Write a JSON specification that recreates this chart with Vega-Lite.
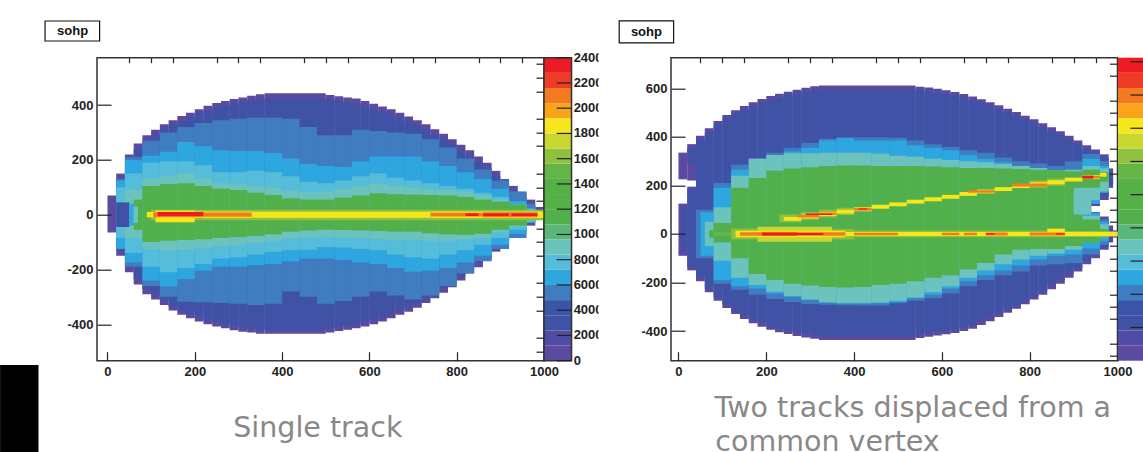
{"$schema":"https://vega.github.io/schema/vega-lite/v6.json","autosize":{"type":"none"},"padding":{"left":97,"top":57.7,"right":1046,"bottom":394.3},"background":"white","bounds":"flush","spacing":0,
"config":{"view":{"stroke":null},"axis":{"grid":false,"title":null,"labelFont":"Liberation Sans","labelFontWeight":"bold","labelFontSize":13,"labelColor":"#222","tickColor":"#222","tickWidth":1.2,"domain":false,"labelFlush":false,"labelOverlap":false,"labelExpr":"''+datum.value"}},
"datasets":{
"L":[
{"x":0,"x2":20,"c":0,"lo":-65,"hi":70},{"x":20,"x2":40,"c":0,"lo":-150,"hi":150},{"x":40,"x2":60,"c":0,"lo":-210,"hi":220},{"x":60,"x2":80,"c":0,"lo":-255,"hi":260},{"x":80,"x2":100,"c":0,"lo":-290,"hi":290},{"x":100,"x2":120,"c":0,"lo":-310,"hi":310},{"x":120,"x2":140,"c":0,"lo":-330,"hi":330},{"x":140,"x2":160,"c":0,"lo":-350,"hi":345},{"x":160,"x2":180,"c":0,"lo":-365,"hi":360},{"x":180,"x2":200,"c":0,"lo":-378,"hi":372},{"x":200,"x2":220,"c":0,"lo":-390,"hi":385},{"x":220,"x2":240,"c":0,"lo":-400,"hi":398},{"x":240,"x2":260,"c":0,"lo":-408,"hi":408},{"x":260,"x2":280,"c":0,"lo":-415,"hi":415},{"x":280,"x2":300,"c":0,"lo":-422,"hi":422},{"x":300,"x2":320,"c":0,"lo":-427,"hi":428},{"x":320,"x2":340,"c":0,"lo":-430,"hi":434},{"x":340,"x2":360,"c":0,"lo":-435,"hi":440},{"x":360,"x2":500,"c":0,"lo":-435,"hi":443},{"x":500,"x2":520,"c":0,"lo":-430,"hi":437},{"x":520,"x2":540,"c":0,"lo":-425,"hi":432},{"x":540,"x2":560,"c":0,"lo":-420,"hi":428},{"x":560,"x2":580,"c":0,"lo":-415,"hi":424},{"x":580,"x2":600,"c":0,"lo":-408,"hi":415},{"x":600,"x2":620,"c":0,"lo":-400,"hi":405},{"x":620,"x2":640,"c":0,"lo":-390,"hi":395},{"x":640,"x2":660,"c":0,"lo":-378,"hi":385},{"x":660,"x2":680,"c":0,"lo":-365,"hi":372},{"x":680,"x2":700,"c":0,"lo":-354,"hi":358},{"x":700,"x2":720,"c":0,"lo":-340,"hi":345},{"x":720,"x2":740,"c":0,"lo":-322,"hi":330},{"x":740,"x2":760,"c":0,"lo":-305,"hi":312},{"x":760,"x2":780,"c":0,"lo":-285,"hi":295},{"x":780,"x2":800,"c":0,"lo":-265,"hi":275},{"x":800,"x2":820,"c":0,"lo":-240,"hi":255},{"x":820,"x2":840,"c":0,"lo":-215,"hi":235},{"x":840,"x2":860,"c":0,"lo":-192,"hi":212},{"x":860,"x2":880,"c":0,"lo":-165,"hi":190},{"x":880,"x2":900,"c":0,"lo":-135,"hi":160},{"x":900,"x2":920,"c":0,"lo":-110,"hi":130},{"x":920,"x2":940,"c":0,"lo":-85,"hi":105},{"x":940,"x2":960,"c":0,"lo":-60,"hi":80},{"x":960,"x2":980,"c":0,"lo":-40,"hi":55},{"x":980,"x2":1000,"c":0,"lo":-18,"hi":28},
{"x":20,"x2":40,"c":2,"lo":-130,"hi":130},{"x":40,"x2":60,"c":2,"lo":-190,"hi":195},{"x":60,"x2":80,"c":2,"lo":-235,"hi":240},{"x":80,"x2":100,"c":2,"lo":-272,"hi":270},{"x":100,"x2":120,"c":2,"lo":-292,"hi":292},{"x":120,"x2":140,"c":2,"lo":-315,"hi":312},{"x":140,"x2":160,"c":2,"lo":-335,"hi":328},{"x":160,"x2":180,"c":2,"lo":-350,"hi":342},{"x":180,"x2":200,"c":2,"lo":-362,"hi":355},{"x":200,"x2":220,"c":2,"lo":-375,"hi":368},{"x":220,"x2":240,"c":2,"lo":-385,"hi":380},{"x":240,"x2":260,"c":2,"lo":-393,"hi":390},{"x":260,"x2":280,"c":2,"lo":-400,"hi":398},{"x":280,"x2":300,"c":2,"lo":-408,"hi":405},{"x":300,"x2":320,"c":2,"lo":-412,"hi":412},{"x":320,"x2":340,"c":2,"lo":-416,"hi":418},{"x":340,"x2":360,"c":2,"lo":-420,"hi":422},{"x":360,"x2":500,"c":2,"lo":-420,"hi":425},{"x":500,"x2":520,"c":2,"lo":-415,"hi":420},{"x":520,"x2":540,"c":2,"lo":-410,"hi":415},{"x":540,"x2":560,"c":2,"lo":-405,"hi":410},{"x":560,"x2":580,"c":2,"lo":-400,"hi":405},{"x":580,"x2":600,"c":2,"lo":-392,"hi":397},{"x":600,"x2":620,"c":2,"lo":-384,"hi":387},{"x":620,"x2":640,"c":2,"lo":-374,"hi":377},{"x":640,"x2":660,"c":2,"lo":-362,"hi":367},{"x":660,"x2":680,"c":2,"lo":-349,"hi":354},{"x":680,"x2":700,"c":2,"lo":-338,"hi":340},{"x":700,"x2":720,"c":2,"lo":-322,"hi":326},{"x":720,"x2":740,"c":2,"lo":-305,"hi":310},{"x":740,"x2":760,"c":2,"lo":-287,"hi":293},{"x":760,"x2":780,"c":2,"lo":-267,"hi":275},{"x":780,"x2":800,"c":2,"lo":-247,"hi":255},{"x":800,"x2":820,"c":2,"lo":-222,"hi":235},{"x":820,"x2":840,"c":2,"lo":-197,"hi":215},{"x":840,"x2":860,"c":2,"lo":-175,"hi":192},{"x":860,"x2":880,"c":2,"lo":-147,"hi":170},{"x":880,"x2":900,"c":2,"lo":-118,"hi":140},{"x":900,"x2":920,"c":2,"lo":-92,"hi":110},{"x":920,"x2":940,"c":2,"lo":-68,"hi":85},{"x":940,"x2":960,"c":2,"lo":-44,"hi":60},{"x":960,"x2":980,"c":2,"lo":-25,"hi":35},
{"x":20,"x2":40,"c":4,"lo":-120,"hi":130},{"x":40,"x2":80,"c":4,"lo":-190,"hi":210},{"x":80,"x2":120,"c":4,"lo":-260,"hi":270},{"x":120,"x2":160,"c":4,"lo":-300,"hi":300},{"x":160,"x2":200,"c":4,"lo":-318,"hi":320},{"x":200,"x2":240,"c":4,"lo":-320,"hi":335},{"x":240,"x2":280,"c":4,"lo":-322,"hi":345},{"x":280,"x2":320,"c":4,"lo":-325,"hi":350},{"x":320,"x2":360,"c":4,"lo":-330,"hi":355},{"x":360,"x2":400,"c":4,"lo":-325,"hi":355},{"x":400,"x2":440,"c":4,"lo":-280,"hi":350},{"x":440,"x2":480,"c":4,"lo":-300,"hi":320},{"x":480,"x2":520,"c":4,"lo":-325,"hi":290},{"x":520,"x2":560,"c":4,"lo":-315,"hi":290},{"x":560,"x2":600,"c":4,"lo":-300,"hi":310},{"x":600,"x2":640,"c":4,"lo":-280,"hi":305},{"x":640,"x2":680,"c":4,"lo":-295,"hi":300},{"x":680,"x2":720,"c":4,"lo":-310,"hi":295},{"x":720,"x2":760,"c":4,"lo":-295,"hi":275},{"x":760,"x2":800,"c":4,"lo":-260,"hi":245},{"x":800,"x2":840,"c":4,"lo":-215,"hi":205},{"x":840,"x2":880,"c":4,"lo":-170,"hi":165},{"x":880,"x2":920,"c":4,"lo":-125,"hi":125},{"x":920,"x2":960,"c":4,"lo":-85,"hi":85},{"x":960,"x2":980,"c":4,"lo":-30,"hi":40},
{"x":20,"x2":40,"c":5,"lo":-125,"hi":125},{"x":40,"x2":80,"c":5,"lo":-175,"hi":200},{"x":80,"x2":120,"c":5,"lo":-240,"hi":215},{"x":120,"x2":160,"c":5,"lo":-262,"hi":230},{"x":160,"x2":200,"c":5,"lo":-235,"hi":265},{"x":200,"x2":240,"c":5,"lo":-205,"hi":250},{"x":240,"x2":280,"c":5,"lo":-190,"hi":235},{"x":280,"x2":320,"c":5,"lo":-190,"hi":232},{"x":320,"x2":360,"c":5,"lo":-185,"hi":232},{"x":360,"x2":400,"c":5,"lo":-180,"hi":225},{"x":400,"x2":440,"c":5,"lo":-170,"hi":205},{"x":440,"x2":480,"c":5,"lo":-160,"hi":185},{"x":480,"x2":520,"c":5,"lo":-160,"hi":178},{"x":520,"x2":560,"c":5,"lo":-165,"hi":175},{"x":560,"x2":600,"c":5,"lo":-175,"hi":195},{"x":600,"x2":640,"c":5,"lo":-180,"hi":212},{"x":640,"x2":680,"c":5,"lo":-195,"hi":212},{"x":680,"x2":720,"c":5,"lo":-208,"hi":212},{"x":720,"x2":760,"c":5,"lo":-205,"hi":195},{"x":760,"x2":800,"c":5,"lo":-195,"hi":178},{"x":800,"x2":840,"c":5,"lo":-175,"hi":155},{"x":840,"x2":880,"c":5,"lo":-150,"hi":130},{"x":880,"x2":920,"c":5,"lo":-110,"hi":95},{"x":920,"x2":960,"c":5,"lo":-70,"hi":50},{"x":960,"x2":980,"c":5,"lo":-30,"hi":25},
{"x":20,"x2":40,"c":6,"lo":-85,"hi":100},{"x":40,"x2":80,"c":6,"lo":-140,"hi":150},{"x":80,"x2":120,"c":6,"lo":-190,"hi":190},{"x":120,"x2":160,"c":6,"lo":-210,"hi":195},{"x":160,"x2":200,"c":6,"lo":-195,"hi":195},{"x":200,"x2":240,"c":6,"lo":-180,"hi":180},{"x":240,"x2":280,"c":6,"lo":-160,"hi":155},{"x":280,"x2":320,"c":6,"lo":-155,"hi":155},{"x":320,"x2":360,"c":6,"lo":-145,"hi":160},{"x":360,"x2":400,"c":6,"lo":-135,"hi":155},{"x":400,"x2":440,"c":6,"lo":-130,"hi":140},{"x":440,"x2":480,"c":6,"lo":-128,"hi":120},{"x":480,"x2":520,"c":6,"lo":-118,"hi":115},{"x":520,"x2":560,"c":6,"lo":-120,"hi":125},{"x":560,"x2":600,"c":6,"lo":-125,"hi":140},{"x":600,"x2":640,"c":6,"lo":-130,"hi":150},{"x":640,"x2":680,"c":6,"lo":-145,"hi":135},{"x":680,"x2":720,"c":6,"lo":-155,"hi":125},{"x":720,"x2":760,"c":6,"lo":-160,"hi":115},{"x":760,"x2":800,"c":6,"lo":-145,"hi":105},{"x":800,"x2":840,"c":6,"lo":-130,"hi":95},{"x":840,"x2":880,"c":6,"lo":-110,"hi":80},{"x":880,"x2":920,"c":6,"lo":-85,"hi":65},{"x":920,"x2":960,"c":6,"lo":-55,"hi":40},{"x":960,"x2":980,"c":6,"lo":-25,"hi":20},
{"x":40,"x2":80,"c":7,"lo":-85,"hi":90},{"x":80,"x2":120,"c":7,"lo":-125,"hi":130},{"x":120,"x2":160,"c":7,"lo":-130,"hi":140},{"x":160,"x2":200,"c":7,"lo":-128,"hi":150},{"x":200,"x2":240,"c":7,"lo":-120,"hi":130},{"x":240,"x2":280,"c":7,"lo":-115,"hi":115},{"x":280,"x2":320,"c":7,"lo":-110,"hi":112},{"x":320,"x2":360,"c":7,"lo":-103,"hi":105},{"x":360,"x2":400,"c":7,"lo":-95,"hi":98},{"x":400,"x2":440,"c":7,"lo":-88,"hi":88},{"x":440,"x2":480,"c":7,"lo":-82,"hi":82},{"x":480,"x2":520,"c":7,"lo":-80,"hi":85},{"x":520,"x2":560,"c":7,"lo":-82,"hi":95},{"x":560,"x2":600,"c":7,"lo":-85,"hi":105},{"x":600,"x2":640,"c":7,"lo":-90,"hi":112},{"x":640,"x2":680,"c":7,"lo":-92,"hi":105},{"x":680,"x2":720,"c":7,"lo":-92,"hi":98},{"x":720,"x2":760,"c":7,"lo":-95,"hi":92},{"x":760,"x2":800,"c":7,"lo":-95,"hi":90},{"x":800,"x2":840,"c":7,"lo":-90,"hi":85},{"x":840,"x2":880,"c":7,"lo":-85,"hi":72},{"x":880,"x2":920,"c":7,"lo":-65,"hi":55},{"x":920,"x2":960,"c":7,"lo":-45,"hi":35},{"x":960,"x2":980,"c":7,"lo":-25,"hi":18},
{"x":60,"x2":80,"c":9,"lo":-55,"hi":55},{"x":80,"x2":120,"c":9,"lo":-100,"hi":105},{"x":120,"x2":160,"c":9,"lo":-95,"hi":112},{"x":160,"x2":200,"c":9,"lo":-92,"hi":115},{"x":200,"x2":240,"c":9,"lo":-90,"hi":105},{"x":240,"x2":280,"c":9,"lo":-85,"hi":95},{"x":280,"x2":320,"c":9,"lo":-82,"hi":90},{"x":320,"x2":360,"c":9,"lo":-78,"hi":80},{"x":360,"x2":400,"c":9,"lo":-72,"hi":72},{"x":400,"x2":440,"c":9,"lo":-62,"hi":60},{"x":440,"x2":480,"c":9,"lo":-58,"hi":55},{"x":480,"x2":520,"c":9,"lo":-55,"hi":55},{"x":520,"x2":560,"c":9,"lo":-56,"hi":62},{"x":560,"x2":600,"c":9,"lo":-58,"hi":70},{"x":600,"x2":640,"c":9,"lo":-60,"hi":78},{"x":640,"x2":680,"c":9,"lo":-62,"hi":75},{"x":680,"x2":720,"c":9,"lo":-62,"hi":73},{"x":720,"x2":760,"c":9,"lo":-68,"hi":72},{"x":760,"x2":800,"c":9,"lo":-72,"hi":70},{"x":800,"x2":840,"c":9,"lo":-74,"hi":65},{"x":840,"x2":880,"c":9,"lo":-70,"hi":55},{"x":880,"x2":920,"c":9,"lo":-55,"hi":48},{"x":920,"x2":960,"c":9,"lo":-40,"hi":38},{"x":960,"x2":985,"c":9,"lo":-20,"hi":15},
{"x":20,"x2":50,"c":2,"lo":-45,"hi":45},{"x":50,"x2":60,"c":5,"lo":-40,"hi":40},{"x":60,"x2":70,"c":7,"lo":-30,"hi":30},
{"x":100,"x2":1000,"c":13,"lo":-20,"hi":18},{"x":90,"x2":110,"c":15,"lo":-10,"hi":10},{"x":110,"x2":200,"c":15,"lo":-28,"hi":15},{"x":200,"x2":330,"c":15,"lo":-12,"hi":12},{"x":330,"x2":740,"c":15,"lo":-11,"hi":11},{"x":740,"x2":1000,"c":15,"lo":-12,"hi":12},{"x":105,"x2":220,"c":17,"lo":-9,"hi":9},{"x":220,"x2":330,"c":17,"lo":-8,"hi":8},{"x":740,"x2":860,"c":17,"lo":-7,"hi":7},{"x":860,"x2":985,"c":17,"lo":-9,"hi":9},{"x":115,"x2":220,"c":19,"lo":-5,"hi":10},{"x":820,"x2":850,"c":19,"lo":-5,"hi":5},{"x":860,"x2":920,"c":19,"lo":-5,"hi":5},{"x":925,"x2":985,"c":19,"lo":-5,"hi":5}
],
"R":[
{"x":0,"x2":20,"c":0,"lo":-90,"hi":125},{"x":0,"x2":20,"c":0,"lo":225,"hi":335},{"x":20,"x2":40,"c":0,"lo":-150,"hi":195},{"x":20,"x2":40,"c":0,"lo":220,"hi":370},{"x":40,"x2":60,"c":0,"lo":-195,"hi":405},{"x":60,"x2":80,"c":0,"lo":-240,"hi":435},{"x":80,"x2":100,"c":0,"lo":-275,"hi":465},{"x":100,"x2":120,"c":0,"lo":-305,"hi":490},{"x":120,"x2":140,"c":0,"lo":-330,"hi":510},{"x":140,"x2":160,"c":0,"lo":-350,"hi":527},{"x":160,"x2":180,"c":0,"lo":-368,"hi":542},{"x":180,"x2":200,"c":0,"lo":-382,"hi":556},{"x":200,"x2":220,"c":0,"lo":-395,"hi":568},{"x":220,"x2":240,"c":0,"lo":-405,"hi":578},{"x":240,"x2":260,"c":0,"lo":-412,"hi":586},{"x":260,"x2":280,"c":0,"lo":-420,"hi":594},{"x":280,"x2":300,"c":0,"lo":-426,"hi":602},{"x":300,"x2":320,"c":0,"lo":-432,"hi":608},{"x":320,"x2":540,"c":0,"lo":-437,"hi":612},{"x":540,"x2":560,"c":0,"lo":-428,"hi":606},{"x":560,"x2":580,"c":0,"lo":-423,"hi":603},{"x":580,"x2":600,"c":0,"lo":-418,"hi":598},{"x":600,"x2":620,"c":0,"lo":-413,"hi":592},{"x":620,"x2":640,"c":0,"lo":-408,"hi":585},{"x":640,"x2":660,"c":0,"lo":-400,"hi":576},{"x":660,"x2":680,"c":0,"lo":-390,"hi":566},{"x":680,"x2":700,"c":0,"lo":-375,"hi":555},{"x":700,"x2":720,"c":0,"lo":-360,"hi":543},{"x":720,"x2":740,"c":0,"lo":-342,"hi":530},{"x":740,"x2":760,"c":0,"lo":-325,"hi":516},{"x":760,"x2":780,"c":0,"lo":-308,"hi":502},{"x":780,"x2":800,"c":0,"lo":-290,"hi":487},{"x":800,"x2":820,"c":0,"lo":-270,"hi":472},{"x":820,"x2":840,"c":0,"lo":-250,"hi":456},{"x":840,"x2":860,"c":0,"lo":-228,"hi":440},{"x":860,"x2":880,"c":0,"lo":-205,"hi":423},{"x":880,"x2":900,"c":0,"lo":-180,"hi":405},{"x":900,"x2":920,"c":0,"lo":-155,"hi":385},{"x":920,"x2":940,"c":0,"lo":-125,"hi":365},{"x":940,"x2":960,"c":0,"lo":-100,"hi":90},{"x":940,"x2":960,"c":0,"lo":115,"hi":348},{"x":960,"x2":980,"c":0,"lo":-65,"hi":72},{"x":960,"x2":980,"c":0,"lo":140,"hi":328},{"x":980,"x2":990,"c":0,"lo":-35,"hi":35},{"x":980,"x2":990,"c":0,"lo":190,"hi":270},{"x":990,"x2":1000,"c":0,"lo":-15,"hi":15},
{"x":6,"x2":20,"c":2,"lo":-70,"hi":110},{"x":20,"x2":40,"c":2,"lo":-135,"hi":185},{"x":20,"x2":40,"c":2,"lo":290,"hi":355},{"x":40,"x2":60,"c":2,"lo":-180,"hi":390},{"x":60,"x2":80,"c":2,"lo":-225,"hi":420},{"x":80,"x2":100,"c":2,"lo":-260,"hi":450},{"x":100,"x2":120,"c":2,"lo":-290,"hi":475},{"x":120,"x2":140,"c":2,"lo":-315,"hi":495},{"x":140,"x2":160,"c":2,"lo":-335,"hi":512},{"x":160,"x2":180,"c":2,"lo":-353,"hi":527},{"x":180,"x2":200,"c":2,"lo":-367,"hi":541},{"x":200,"x2":220,"c":2,"lo":-380,"hi":553},{"x":220,"x2":240,"c":2,"lo":-390,"hi":563},{"x":240,"x2":260,"c":2,"lo":-398,"hi":571},{"x":260,"x2":280,"c":2,"lo":-405,"hi":579},{"x":280,"x2":300,"c":2,"lo":-411,"hi":587},{"x":300,"x2":320,"c":2,"lo":-417,"hi":593},{"x":320,"x2":540,"c":2,"lo":-422,"hi":597},{"x":540,"x2":560,"c":2,"lo":-413,"hi":591},{"x":560,"x2":580,"c":2,"lo":-408,"hi":588},{"x":580,"x2":600,"c":2,"lo":-403,"hi":583},{"x":600,"x2":620,"c":2,"lo":-398,"hi":577},{"x":620,"x2":640,"c":2,"lo":-393,"hi":570},{"x":640,"x2":660,"c":2,"lo":-385,"hi":561},{"x":660,"x2":680,"c":2,"lo":-375,"hi":551},{"x":680,"x2":700,"c":2,"lo":-360,"hi":540},{"x":700,"x2":720,"c":2,"lo":-345,"hi":528},{"x":720,"x2":740,"c":2,"lo":-327,"hi":515},{"x":740,"x2":760,"c":2,"lo":-310,"hi":501},{"x":760,"x2":780,"c":2,"lo":-293,"hi":487},{"x":780,"x2":800,"c":2,"lo":-275,"hi":472},{"x":800,"x2":820,"c":2,"lo":-255,"hi":457},{"x":820,"x2":840,"c":2,"lo":-235,"hi":441},{"x":840,"x2":860,"c":2,"lo":-213,"hi":425},{"x":860,"x2":880,"c":2,"lo":-190,"hi":408},{"x":880,"x2":900,"c":2,"lo":-165,"hi":390},{"x":900,"x2":920,"c":2,"lo":-140,"hi":370},{"x":920,"x2":940,"c":2,"lo":-110,"hi":350},{"x":940,"x2":960,"c":2,"lo":-85,"hi":75},{"x":940,"x2":960,"c":2,"lo":130,"hi":333},{"x":960,"x2":980,"c":2,"lo":-50,"hi":60},{"x":960,"x2":980,"c":2,"lo":155,"hi":313},{"x":980,"x2":990,"c":2,"lo":-20,"hi":15},{"x":980,"x2":990,"c":2,"lo":205,"hi":255},
{"x":40,"x2":80,"c":4,"lo":-100,"hi":100},{"x":80,"x2":120,"c":4,"lo":-205,"hi":210},{"x":120,"x2":160,"c":4,"lo":-230,"hi":285},{"x":160,"x2":200,"c":4,"lo":-250,"hi":312},{"x":200,"x2":240,"c":4,"lo":-268,"hi":335},{"x":240,"x2":280,"c":4,"lo":-280,"hi":355},{"x":280,"x2":320,"c":4,"lo":-288,"hi":375},{"x":320,"x2":360,"c":4,"lo":-292,"hi":392},{"x":360,"x2":400,"c":4,"lo":-294,"hi":398},{"x":400,"x2":440,"c":4,"lo":-295,"hi":398},{"x":440,"x2":480,"c":4,"lo":-295,"hi":398},{"x":480,"x2":520,"c":4,"lo":-285,"hi":396},{"x":520,"x2":560,"c":4,"lo":-275,"hi":385},{"x":560,"x2":600,"c":4,"lo":-265,"hi":370},{"x":600,"x2":640,"c":4,"lo":-245,"hi":358},{"x":640,"x2":680,"c":4,"lo":-215,"hi":345},{"x":680,"x2":720,"c":4,"lo":-190,"hi":335},{"x":720,"x2":760,"c":4,"lo":-170,"hi":315},{"x":760,"x2":800,"c":4,"lo":-155,"hi":300},{"x":800,"x2":840,"c":4,"lo":-130,"hi":290},{"x":840,"x2":880,"c":4,"lo":-125,"hi":280},{"x":880,"x2":920,"c":4,"lo":-120,"hi":300},{"x":920,"x2":960,"c":4,"lo":-85,"hi":90},{"x":920,"x2":960,"c":4,"lo":125,"hi":330},{"x":960,"x2":980,"c":4,"lo":-45,"hi":60},{"x":960,"x2":980,"c":4,"lo":170,"hi":300},
{"x":50,"x2":80,"c":5,"lo":-90,"hi":90},{"x":80,"x2":120,"c":5,"lo":-190,"hi":190},{"x":120,"x2":160,"c":5,"lo":-215,"hi":265},{"x":160,"x2":200,"c":5,"lo":-225,"hi":295},{"x":200,"x2":240,"c":5,"lo":-245,"hi":320},{"x":240,"x2":280,"c":5,"lo":-260,"hi":340},{"x":280,"x2":320,"c":5,"lo":-272,"hi":355},{"x":320,"x2":360,"c":5,"lo":-280,"hi":385},{"x":360,"x2":400,"c":5,"lo":-285,"hi":395},{"x":400,"x2":480,"c":5,"lo":-285,"hi":385},{"x":480,"x2":520,"c":5,"lo":-280,"hi":385},{"x":520,"x2":560,"c":5,"lo":-265,"hi":365},{"x":560,"x2":600,"c":5,"lo":-250,"hi":355},{"x":600,"x2":640,"c":5,"lo":-225,"hi":345},{"x":640,"x2":680,"c":5,"lo":-195,"hi":325},{"x":680,"x2":720,"c":5,"lo":-170,"hi":310},{"x":720,"x2":760,"c":5,"lo":-150,"hi":295},{"x":760,"x2":800,"c":5,"lo":-130,"hi":280},{"x":800,"x2":840,"c":5,"lo":-105,"hi":265},{"x":840,"x2":880,"c":5,"lo":-90,"hi":255},{"x":880,"x2":920,"c":5,"lo":-85,"hi":260},{"x":920,"x2":960,"c":5,"lo":-60,"hi":85},{"x":920,"x2":960,"c":5,"lo":125,"hi":310},{"x":960,"x2":980,"c":5,"lo":-30,"hi":50},{"x":960,"x2":980,"c":5,"lo":170,"hi":280},
{"x":60,"x2":80,"c":7,"lo":-50,"hi":50},{"x":80,"x2":120,"c":7,"lo":-110,"hi":110},{"x":120,"x2":160,"c":7,"lo":-180,"hi":240},{"x":160,"x2":200,"c":7,"lo":-210,"hi":310},{"x":200,"x2":240,"c":7,"lo":-238,"hi":325},{"x":240,"x2":280,"c":7,"lo":-255,"hi":332},{"x":280,"x2":320,"c":7,"lo":-270,"hi":332},{"x":320,"x2":360,"c":7,"lo":-282,"hi":335},{"x":360,"x2":440,"c":7,"lo":-285,"hi":335},{"x":440,"x2":480,"c":7,"lo":-282,"hi":330},{"x":480,"x2":520,"c":7,"lo":-275,"hi":322},{"x":520,"x2":560,"c":7,"lo":-262,"hi":318},{"x":560,"x2":600,"c":7,"lo":-240,"hi":310},{"x":600,"x2":640,"c":7,"lo":-215,"hi":305},{"x":640,"x2":680,"c":7,"lo":-180,"hi":300},{"x":680,"x2":720,"c":7,"lo":-150,"hi":295},{"x":720,"x2":760,"c":7,"lo":-125,"hi":288},{"x":760,"x2":800,"c":7,"lo":-105,"hi":280},{"x":800,"x2":840,"c":7,"lo":-90,"hi":272},{"x":840,"x2":880,"c":7,"lo":-80,"hi":262},{"x":880,"x2":920,"c":7,"lo":-65,"hi":265},{"x":920,"x2":960,"c":7,"lo":-28,"hi":75},{"x":920,"x2":960,"c":7,"lo":140,"hi":280},{"x":960,"x2":980,"c":7,"lo":-15,"hi":40},{"x":960,"x2":980,"c":7,"lo":175,"hi":270},
{"x":70,"x2":80,"c":9,"lo":-15,"hi":15},{"x":80,"x2":120,"c":9,"lo":-35,"hi":45},{"x":120,"x2":160,"c":9,"lo":-100,"hi":190},{"x":160,"x2":200,"c":9,"lo":-165,"hi":230},{"x":200,"x2":240,"c":9,"lo":-190,"hi":260},{"x":240,"x2":280,"c":9,"lo":-205,"hi":270},{"x":280,"x2":320,"c":9,"lo":-212,"hi":275},{"x":320,"x2":360,"c":9,"lo":-218,"hi":280},{"x":360,"x2":400,"c":9,"lo":-220,"hi":282},{"x":400,"x2":440,"c":9,"lo":-218,"hi":282},{"x":440,"x2":480,"c":9,"lo":-210,"hi":280},{"x":480,"x2":520,"c":9,"lo":-205,"hi":280},{"x":520,"x2":560,"c":9,"lo":-195,"hi":280},{"x":560,"x2":600,"c":9,"lo":-180,"hi":278},{"x":600,"x2":640,"c":9,"lo":-170,"hi":275},{"x":640,"x2":680,"c":9,"lo":-145,"hi":272},{"x":680,"x2":720,"c":9,"lo":-120,"hi":272},{"x":720,"x2":760,"c":9,"lo":-85,"hi":270},{"x":760,"x2":800,"c":9,"lo":-65,"hi":268},{"x":800,"x2":840,"c":9,"lo":-62,"hi":265},{"x":840,"x2":880,"c":9,"lo":-62,"hi":262},{"x":880,"x2":920,"c":9,"lo":-50,"hi":258},{"x":920,"x2":960,"c":9,"lo":-35,"hi":60},{"x":920,"x2":960,"c":9,"lo":190,"hi":265},{"x":960,"x2":980,"c":9,"lo":-15,"hi":20},{"x":960,"x2":980,"c":9,"lo":215,"hi":255},
{"x":900,"x2":940,"c":7,"lo":80,"hi":190},
{"x":80,"x2":120,"c":12,"lo":-8,"hi":8},{"x":120,"x2":180,"c":13,"lo":-22,"hi":22},{"x":180,"x2":350,"c":14,"lo":-32,"hi":30},{"x":350,"x2":400,"c":13,"lo":-22,"hi":20},{"x":400,"x2":880,"c":13,"lo":-14,"hi":14},{"x":880,"x2":1000,"c":14,"lo":-10,"hi":10},{"x":130,"x2":380,"c":15,"lo":-14,"hi":13},{"x":380,"x2":1000,"c":15,"lo":-8,"hi":8},{"x":840,"x2":880,"c":15,"lo":-8,"hi":22},{"x":140,"x2":380,"c":17,"lo":-7,"hi":7},{"x":400,"x2":500,"c":17,"lo":-5,"hi":5},{"x":600,"x2":640,"c":17,"lo":-5,"hi":5},{"x":650,"x2":680,"c":17,"lo":-5,"hi":5},{"x":700,"x2":750,"c":17,"lo":-6,"hi":6},{"x":800,"x2":880,"c":17,"lo":-6,"hi":6},{"x":190,"x2":270,"c":19,"lo":-6,"hi":6},{"x":270,"x2":330,"c":19,"lo":-4,"hi":4},{"x":700,"x2":720,"c":19,"lo":-3,"hi":3},{"x":860,"x2":880,"c":19,"lo":-3,"hi":3},
{"x":230,"x2":280,"c":13,"lo":48,"hi":80},{"x":280,"x2":320,"c":13,"lo":58,"hi":90},{"x":320,"x2":360,"c":13,"lo":68,"hi":100},{"x":360,"x2":400,"c":13,"lo":78,"hi":108},{"x":800,"x2":840,"c":13,"lo":190,"hi":220},{"x":840,"x2":880,"c":13,"lo":198,"hi":228},
{"x":240,"x2":280,"c":15,"lo":54,"hi":70},{"x":280,"x2":320,"c":15,"lo":64,"hi":80},{"x":320,"x2":360,"c":15,"lo":74,"hi":90},{"x":360,"x2":400,"c":15,"lo":84,"hi":100},{"x":400,"x2":440,"c":15,"lo":94,"hi":110},{"x":440,"x2":480,"c":15,"lo":104,"hi":120},{"x":480,"x2":520,"c":15,"lo":114,"hi":130},{"x":520,"x2":560,"c":15,"lo":125,"hi":141},{"x":560,"x2":600,"c":15,"lo":135,"hi":151},{"x":600,"x2":640,"c":15,"lo":145,"hi":161},{"x":640,"x2":680,"c":15,"lo":157,"hi":173},{"x":680,"x2":720,"c":15,"lo":167,"hi":183},{"x":720,"x2":760,"c":15,"lo":177,"hi":193},{"x":760,"x2":800,"c":15,"lo":189,"hi":205},{"x":800,"x2":840,"c":15,"lo":197,"hi":213},{"x":840,"x2":880,"c":15,"lo":205,"hi":221},{"x":880,"x2":920,"c":15,"lo":216,"hi":232},{"x":920,"x2":960,"c":15,"lo":226,"hi":242},{"x":960,"x2":975,"c":15,"lo":236,"hi":252},
{"x":270,"x2":320,"c":17,"lo":68,"hi":78},{"x":320,"x2":360,"c":17,"lo":78,"hi":88},{"x":400,"x2":440,"c":17,"lo":97,"hi":107},{"x":660,"x2":720,"c":17,"lo":170,"hi":180},{"x":760,"x2":840,"c":17,"lo":196,"hi":208},{"x":920,"x2":960,"c":17,"lo":229,"hi":239},{"x":290,"x2":350,"c":19,"lo":78,"hi":84},{"x":410,"x2":430,"c":19,"lo":100,"hi":105},{"x":920,"x2":945,"c":19,"lo":228,"hi":240}
],
"LA":[{"x":-143,"x2":-18,"lo":634,"hi":707}],
"LT":[{"x":-80,"y":670,"t":"sohp"}],
"LC":[{"x":482,"y":-810,"t":"Single track"}],
"LB":[{"x":-246,"x2":-158,"lo":-866,"hi":-548.5}],
"RA":[{"x":-135,"x2":-11,"lo":787,"hi":878}],
"RT":[{"x":-73,"y":832,"t":"sohp"}],
"RC":[{"x":82,"y":-754,"t":"Two tracks displaced from a"},{"x":84,"y":-893,"t":"common vertex"}],
"BL":[{"c":0,"lo":0,"hi":120},{"c":1,"lo":120,"hi":240},{"c":2,"lo":240,"hi":360},{"c":3,"lo":360,"hi":480},{"c":4,"lo":480,"hi":600},{"c":5,"lo":600,"hi":720},{"c":6,"lo":720,"hi":840},{"c":7,"lo":840,"hi":960},{"c":8,"lo":960,"hi":1080},{"c":9,"lo":1080,"hi":1200},{"c":10,"lo":1200,"hi":1320},{"c":11,"lo":1320,"hi":1440},{"c":12,"lo":1440,"hi":1560},{"c":13,"lo":1560,"hi":1680},{"c":14,"lo":1680,"hi":1800},{"c":15,"lo":1800,"hi":1920},{"c":16,"lo":1920,"hi":2040},{"c":17,"lo":2040,"hi":2160},{"c":18,"lo":2160,"hi":2280},{"c":19,"lo":2280,"hi":2400}],
"BR":[{"c":0,"lo":0,"hi":91},{"c":1,"lo":91,"hi":182},{"c":2,"lo":182,"hi":274},{"c":3,"lo":274,"hi":365},{"c":4,"lo":365,"hi":456},{"c":5,"lo":456,"hi":548},{"c":6,"lo":548,"hi":639},{"c":7,"lo":639,"hi":730},{"c":8,"lo":730,"hi":821},{"c":9,"lo":821,"hi":912},{"c":10,"lo":912,"hi":1004},{"c":11,"lo":1004,"hi":1095},{"c":12,"lo":1095,"hi":1186},{"c":13,"lo":1186,"hi":1278},{"c":14,"lo":1278,"hi":1369},{"c":15,"lo":1369,"hi":1460},{"c":16,"lo":1460,"hi":1551},{"c":17,"lo":1551,"hi":1642},{"c":18,"lo":1642,"hi":1734},{"c":19,"lo":1734,"hi":1825}],
"TL":[{"v":0,"t":"0"},{"v":200,"t":"2000"},{"v":400,"t":"4000"},{"v":600,"t":"6000"},{"v":800,"t":"8000"},{"v":1000,"t":"10000"},{"v":1200,"t":"12000"},{"v":1400,"t":"14000"},{"v":1600,"t":"16000"},{"v":1800,"t":"18000"},{"v":2000,"t":"20000"},{"v":2200,"t":"22000"},{"v":2400,"t":"24000"}],
"TR":[{"v":200},{"v":400},{"v":600},{"v":800},{"v":1000},{"v":1200},{"v":1400},{"v":1600},{"v":1800}],
"F":[{"a":0,"b":2400}],
"M":[{"x":16.5,"x2":53,"lo":-0.1,"hi":1.1}]
},
"hconcat":[
{"width":447,"height":303,"resolve":{"axis":{"x":"independent","y":"independent"}},
"layer":[
{"data":{"name":"L"},"mark":{"type":"rect"},"encoding":{
"x":{"field":"x","type":"quantitative","scale":{"domain":[-24,1000],"nice":false,"zero":false},"axis":{"values":[0,200,400,600,800,1000],"tickSize":-9,"labelPadding":14,"zindex":1}},
"x2":{"field":"x2"},
"y":{"field":"lo","type":"quantitative","scale":{"domain":[-533,573],"nice":false,"zero":false},"axis":{"values":[-400,-200,0,200,400],"tickSize":-14,"labelPadding":18,"zindex":1}},
"y2":{"field":"hi"},
"color":{"field":"c","type":"ordinal","legend":null,"scale":{"domain":[0,1,2,3,4,5,6,7,8,9,10,11,12,13,14,15,16,17,18,19],"range":["#5b4a9f","#4f4ca3","#3f52a6","#3a55a8","#3f7cc0","#2ea6df","#55bcd9","#6cc3bd","#5ab77a","#52b04c","#55b047","#55b047","#64b545","#8fc03e","#c8d62f","#f6e71a","#f9a51b","#f47a20","#ee3d24","#ed1c24"]}}}},
{"data":{"name":"LB"},"mark":{"type":"rect","fill":"#000"},"encoding":{
"x":{"field":"x","type":"quantitative","axis":{"values":[50,100,150,250,300,350,450,500,550,650,700,750,850,900,950],"labels":false,"tickSize":-5,"zindex":1}},"x2":{"field":"x2"},
"y":{"field":"lo","type":"quantitative","axis":{"values":[-500,-450,-350,-300,-250,-150,-100,-50,50,100,150,250,300,350,450,500,550],"labels":false,"tickSize":-8,"zindex":1}},"y2":{"field":"hi"}}},
{"data":{"name":"LA"},"mark":{"type":"rect","fill":"white","stroke":"#111","strokeWidth":1.2},"encoding":{"x":{"field":"x","type":"quantitative","axis":null},"x2":{"field":"x2"},"y":{"field":"lo","type":"quantitative","axis":null},"y2":{"field":"hi"}}},
{"data":{"name":"LT"},"mark":{"type":"text","font":"Liberation Sans","fontWeight":"bold","fontSize":13,"color":"#111"},"encoding":{"x":{"field":"x","type":"quantitative","axis":null},"y":{"field":"y","type":"quantitative","axis":null},"text":{"field":"t"}}},
{"data":{"name":"LC"},"mark":{"type":"text","font":"DejaVu Sans","fontSize":28.5,"color":"#888888","baseline":"alphabetic"},"encoding":{"x":{"field":"x","type":"quantitative","axis":null},"y":{"field":"y","type":"quantitative","axis":null},"text":{"field":"t"}}}
],"view":{"stroke":"#333","strokeWidth":1.5}},
{"width":38,"height":303,"layer":[
{"data":{"name":"BL"},"mark":{"type":"rect"},"encoding":{
"x":{"datum":0,"type":"quantitative","scale":{"domain":[0,1.38],"nice":false},"axis":null},"x2":{"datum":1},
"y":{"field":"lo","type":"quantitative","scale":{"domain":[0,2400],"nice":false},"axis":null},"y2":{"field":"hi"},
"color":{"field":"c","type":"ordinal","legend":null,"scale":{"domain":[0,1,2,3,4,5,6,7,8,9,10,11,12,13,14,15,16,17,18,19],"range":["#5b4a9f","#4f4ca3","#3f52a6","#3a55a8","#3f7cc0","#2ea6df","#55bcd9","#6cc3bd","#5ab77a","#52b04c","#55b047","#55b047","#64b545","#8fc03e","#c8d62f","#f6e71a","#f9a51b","#f47a20","#ee3d24","#ed1c24"]}}}},
{"data":{"name":"F"},"mark":{"type":"rect","fill":"transparent","stroke":"#333","strokeWidth":1.5},"encoding":{"x":{"datum":0,"type":"quantitative"},"x2":{"datum":1},"y":{"field":"a","type":"quantitative"},"y2":{"field":"b"}}},
{"data":{"name":"TL"},"mark":{"type":"rule","color":"#222","strokeWidth":1.2},"encoding":{"x":{"datum":0.46,"type":"quantitative"},"x2":{"datum":1},"y":{"field":"v","type":"quantitative"}}},
{"data":{"name":"TL"},"mark":{"type":"text","align":"left","font":"Liberation Sans","fontWeight":"bold","fontSize":13,"color":"#222"},"encoding":{"x":{"datum":1.076,"type":"quantitative"},"y":{"field":"v","type":"quantitative"},"text":{"field":"t"}}}
]},
{"width":88.5,"height":303,"data":{"name":"M"},"mark":{"type":"rect","fill":"white"},"encoding":{
"x":{"field":"x","type":"quantitative","scale":{"domain":[0,88.5],"nice":false},"axis":null},"x2":{"field":"x2"},
"y":{"field":"lo","type":"quantitative","scale":{"domain":[0,1],"nice":false},"axis":null},"y2":{"field":"hi"}}},
{"width":446.5,"height":303,"resolve":{"axis":{"x":"independent","y":"independent"}},
"layer":[
{"data":{"name":"R"},"mark":{"type":"rect"},"encoding":{
"x":{"field":"x","type":"quantitative","scale":{"domain":[-17,1000],"nice":false,"zero":false},"axis":{"values":[0,200,400,600,800,1000],"tickSize":-9,"labelPadding":14,"zindex":1}},
"x2":{"field":"x2"},
"y":{"field":"lo","type":"quantitative","scale":{"domain":[-522,726],"nice":false,"zero":false},"axis":{"values":[-400,-200,0,200,400,600],"tickSize":-14,"labelPadding":18,"zindex":1}},
"y2":{"field":"hi"},
"color":{"field":"c","type":"ordinal","legend":null,"scale":{"domain":[0,1,2,3,4,5,6,7,8,9,10,11,12,13,14,15,16,17,18,19],"range":["#5b4a9f","#4f4ca3","#3f52a6","#3a55a8","#3f7cc0","#2ea6df","#55bcd9","#6cc3bd","#5ab77a","#52b04c","#55b047","#55b047","#64b545","#8fc03e","#c8d62f","#f6e71a","#f9a51b","#f47a20","#ee3d24","#ed1c24"]}}}},
{"data":{"name":"RA"},"mark":{"type":"rect","fill":"white","stroke":"#111","strokeWidth":1.2},"encoding":{
"x":{"field":"x","type":"quantitative","axis":{"values":[50,100,150,250,300,350,450,500,550,650,700,750,850,900,950],"labels":false,"tickSize":-5,"zindex":1}},"x2":{"field":"x2"},
"y":{"field":"lo","type":"quantitative","axis":{"values":[-500,-450,-350,-300,-250,-150,-100,-50,50,100,150,250,300,350,450,500,550,650,700],"labels":false,"tickSize":-8,"zindex":1}},"y2":{"field":"hi"}}},
{"data":{"name":"RT"},"mark":{"type":"text","font":"Liberation Sans","fontWeight":"bold","fontSize":13,"color":"#111"},"encoding":{"x":{"field":"x","type":"quantitative","axis":null},"y":{"field":"y","type":"quantitative","axis":null},"text":{"field":"t"}}},
{"data":{"name":"RC"},"mark":{"type":"text","font":"DejaVu Sans","fontSize":28.5,"color":"#888888","align":"left","baseline":"alphabetic"},"encoding":{"x":{"field":"x","type":"quantitative","axis":null},"y":{"field":"y","type":"quantitative","axis":null},"text":{"field":"t"}}}
],"view":{"stroke":"#333","strokeWidth":1.5}},
{"width":27,"height":303,"layer":[
{"data":{"name":"BR"},"mark":{"type":"rect"},"encoding":{
"x":{"datum":0,"type":"quantitative","scale":{"domain":[0,1],"nice":false},"axis":null},"x2":{"datum":1},
"y":{"field":"lo","type":"quantitative","scale":{"domain":[0,1825],"nice":false},"axis":null},"y2":{"field":"hi"},
"color":{"field":"c","type":"ordinal","legend":null,"scale":{"domain":[0,1,2,3,4,5,6,7,8,9,10,11,12,13,14,15,16,17,18,19],"range":["#5b4a9f","#4f4ca3","#3f52a6","#3a55a8","#3f7cc0","#2ea6df","#55bcd9","#6cc3bd","#5ab77a","#52b04c","#55b047","#55b047","#64b545","#8fc03e","#c8d62f","#f6e71a","#f9a51b","#f47a20","#ee3d24","#ed1c24"]}}}},
{"data":{"name":"TR"},"mark":{"type":"rule","color":"#222","strokeWidth":1.2},"encoding":{"x":{"datum":0.46,"type":"quantitative"},"x2":{"datum":1},"y":{"field":"v","type":"quantitative"}}}
]}
]}
